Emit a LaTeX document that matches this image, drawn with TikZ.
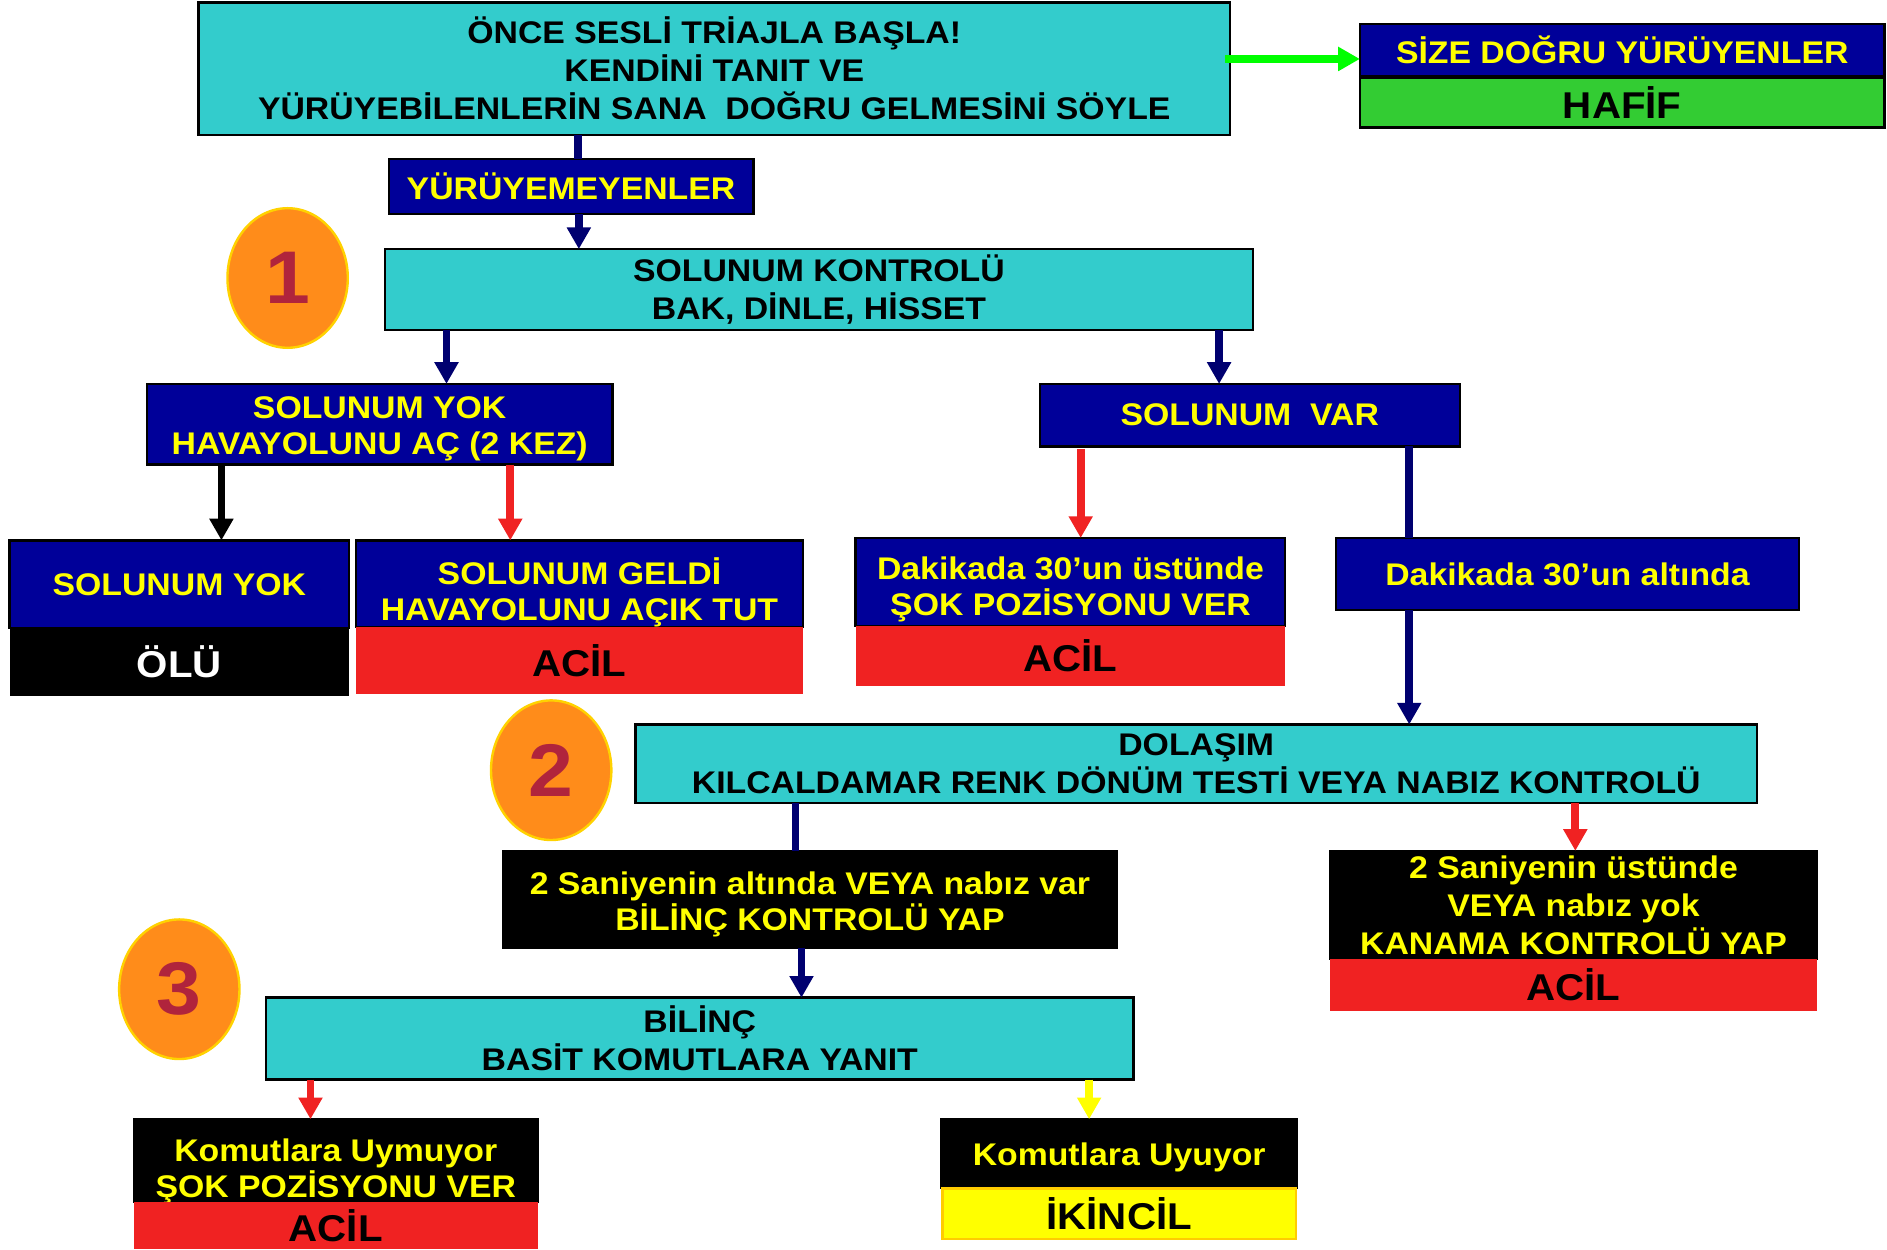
\documentclass[tikz,border=0pt]{standalone}
\usepackage{fontspec}
\setmainfont{Liberation Sans}[FakeStretch=1.08]
\usetikzlibrary{arrows.meta,shapes.geometric}
\definecolor{cyanc}{HTML}{33CCCC}
\definecolor{navyc}{HTML}{000099}
\definecolor{navyl}{HTML}{000070}
\definecolor{redc}{HTML}{F02222}
\definecolor{yellowc}{HTML}{FFFF00}
\definecolor{greenc}{HTML}{33CC33}
\definecolor{greenl}{HTML}{00FF00}
\definecolor{orangec}{HTML}{FF8C1A}
\definecolor{ringc}{HTML}{FFD200}
\definecolor{numc}{HTML}{B0243C}
\definecolor{amberc}{HTML}{FFCC00}
\tikzset{
  box/.style={rectangle, inner sep=0pt, outer sep=0pt, align=center,
    font=\bfseries\fontsize{13}{15.75}\selectfont},
  txt/.style={inner sep=0pt, align=center, font=\bfseries\fontsize{13}{15}\selectfont},
  bigtxt/.style={font=\bfseries\fontsize{15.5}{17}\selectfont},
  cyanbox/.style={box, fill=cyanc, draw=black, line width=1pt, text=black},
  navybox/.style={box, fill=navyc, draw=black, line width=1pt, text=yellowc},
  blackbox/.style={box, fill=black, draw=black, line width=0.6pt, text=yellowc},
  redbox/.style={box, fill=redc, text=black, bigtxt},
  numcirc/.style={ellipse, fill=orangec, draw=ringc, line width=1pt,
    minimum width=50pt, minimum height=58pt, inner sep=0pt, text=numc,
    font=\bfseries\fontsize{31}{31}\selectfont},
  tip/.style={-{Triangle[length=9pt,width=9.5pt]}},
  navyarrow/.style={draw=navyl, line width=3.2pt, tip},
  navyline/.style={draw=navyl, line width=3.2pt},
  redarrow/.style={draw=redc, line width=3.2pt, tip},
  blackarrow/.style={draw=black, line width=3.2pt, tip},
  yellowarrow/.style={draw=yellowc, line width=3.2pt, tip},
  greenarrow/.style={draw=greenl, line width=3.2pt, tip},
}
\begin{document}
\begin{tikzpicture}[x=0.5pt,y=-0.5pt]
\useasboundingbox[fill=white] (0,0) rectangle (1568,1038);

% top
\node[cyanbox, minimum width=428.5pt, minimum height=55pt] (top) at (593.5,57)
  {ÖNCE SESLİ TRİAJLA BAŞLA!\\KENDİNİ TANIT VE\\YÜRÜYEBİLENLERİN SANA~~DOĞRU GELMESİNİ SÖYLE};
\node[navybox, minimum width=218pt, minimum height=21.5pt] (size) at (1348,41.5) {SİZE DOĞRU YÜRÜYENLER};
\node[box, fill=greenc, draw=black, line width=1pt, bigtxt, minimum width=218pt, minimum height=20.5pt] (hafif) at (1348,85.5) {HAFİF};
\node[navybox, minimum width=151.5pt, minimum height=23pt] (yuru) at (474.5,155) {YÜRÜYEMEYENLER};
\node[cyanbox, minimum width=360.5pt, minimum height=33.5pt] (skontrol) at (680.5,240.5) {SOLUNUM KONTROLÜ\\BAK, DİNLE, HİSSET};

% circles
\node[numcirc] (c1) at (239,231) {1};
\node[numcirc] (c2) at (458,640) {2};
\node[numcirc] (c3) at (149,822) {3};

% level 2
\node[navybox, minimum width=193.5pt, minimum height=33.5pt] (syok) at (315.5,352.5) {};
\node[txt, text=yellowc] (syoktxt) at ([yshift=-2pt]syok.center) {SOLUNUM YOK\\HAVAYOLUNU AÇ (2 KEZ)};
\node[navybox, minimum width=174.5pt, minimum height=26pt] (svar) at (1038.5,345) {SOLUNUM~~VAR};

% level 3
\node[navybox, minimum width=141pt, minimum height=36.5pt] (olutop) at (149,485.5) {SOLUNUM YOK};
\node[box, fill=black, text=white, bigtxt, minimum width=141pt, minimum height=28pt] (olubot) at (149,550) {ÖLÜ};
\node[navybox, minimum width=185.5pt, minimum height=36pt] (gelditop) at (481.5,485) {};
\node[txt, text=yellowc] (gelditxt) at ([yshift=-3.5pt]gelditop.center) {SOLUNUM GELDİ\\HAVAYOLUNU AÇIK TUT};
\node[redbox, minimum width=185.5pt, minimum height=28pt] (geldibot) at (481.5,549) {ACİL};
\node[navybox, minimum width=178.5pt, minimum height=36.5pt] (ustop) at (889.5,483.5) {};
\node[txt, text=yellowc] (ustxt) at ([yshift=-3.25pt]ustop.center) {Dakikada 30’un üstünde\\ŞOK POZİSYONU VER};
\node[redbox, minimum width=178.5pt, minimum height=25pt] (usbot) at (889.5,545) {ACİL};
\node[navybox, minimum width=192.5pt, minimum height=30pt] (altinda) at (1302.5,477) {Dakikada 30’un altında};

% dolasim
\node[cyanbox, minimum width=466pt, minimum height=32.5pt] (dolasim) at (994,634.5) {DOLAŞIM\\KILCALDAMAR RENK DÖNÜM TESTİ VEYA NABIZ KONTROLÜ};
\node[blackbox, minimum width=255pt, minimum height=40.5pt] (sanalt) at (673,747.5) {};
\node[txt, text=yellowc] (sanalttxt) at ([yshift=-2pt]sanalt.center) {2 Saniyenin altında VEYA nabız var\\BİLİNÇ KONTROLÜ YAP};
\node[blackbox, minimum width=202.5pt, minimum height=45pt] (sanusttop) at (1307.5,752) {2 Saniyenin üstünde\\VEYA nabız yok\\KANAMA KONTROLÜ YAP};
\node[redbox, minimum width=202.5pt, minimum height=21.5pt] (sanustbot) at (1307.5,818.5) {ACİL};

% bilinc
\node[cyanbox, minimum width=360.5pt, minimum height=34pt] (bilinc) at (581.5,863) {BİLİNÇ\\BASİT KOMUTLARA YANIT};
\node[blackbox, minimum width=168pt, minimum height=34.5pt] (uymtop) at (279,964.5) {};
\node[txt, text=yellowc] (uymtxt) at ([yshift=-4.5pt]uymtop.center) {Komutlara Uymuyor\\ŞOK POZİSYONU VER};
\node[redbox, minimum width=168pt, minimum height=19.5pt] (uymbot) at (279,1018.5) {ACİL};
\node[blackbox, minimum width=148pt, minimum height=28.5pt] (uyutop) at (930,958.5) {};
\node[txt, text=yellowc] (uyutxt) at ([yshift=-1.5pt]uyutop.center) {Komutlara Uyuyor};
\node[box, fill=yellowc, draw=amberc, line width=1pt, text=black, bigtxt, minimum width=147pt, minimum height=21pt] (uyubot) at (930,1008.5) {İKİNCİL};

% connectors
\coordinate (gtip) at ([yshift=-3.75pt]size.west);
\draw[greenarrow] ([xshift=-2pt]top.east |- gtip) -- (gtip);
\draw[navyline] ([xshift=2.75pt]yuru.north |- top.south) -- ([xshift=2.75pt]yuru.north);
\draw[navyarrow] ([xshift=3.25pt]yuru.south) -- ([xshift=3.25pt]yuru.south |- skontrol.north);
\draw[navyarrow] ([xshift=27.75pt]syok.north |- skontrol.south) -- ([xshift=27.75pt]syok.north);
\draw[navyarrow] ([xshift=-12.75pt]svar.north |- skontrol.south) -- ([xshift=-12.75pt]svar.north);
\draw[blackarrow] ([xshift=17.5pt]olutop.north |- syok.south) -- ([xshift=17.5pt]olutop.north);
\draw[redarrow] ([xshift=-28.75pt]gelditop.north |- syok.south) -- ([xshift=-28.75pt]gelditop.north);
\draw[redarrow] ([xshift=4.25pt,yshift=-1pt]ustop.north |- svar.south) -- ([xshift=4.25pt]ustop.north);
\draw[navyline] ([xshift=-65.75pt]altinda.north |- svar.south) -- ([xshift=-65.75pt]altinda.north);
\draw[navyarrow] ([xshift=-65.75pt]altinda.south) -- ([xshift=-65.75pt]altinda.south |- dolasim.north);
\draw[navyline] ([xshift=-6pt]sanalt.north |- dolasim.south) -- ([xshift=-6pt]sanalt.north);
\draw[redarrow] ([xshift=0.75pt]sanusttop.north |- dolasim.south) -- ([xshift=0.75pt]sanusttop.north);
\draw[navyarrow] ([xshift=-3.5pt]sanalt.south) -- ([xshift=-3.5pt]sanalt.south |- bilinc.north);
\draw[redarrow] ([xshift=-10.5pt]uymtop.north |- bilinc.south) -- ([xshift=-10.5pt]uymtop.north);
\draw[yellowarrow] ([xshift=-12.5pt]uyutop.north |- bilinc.south) -- ([xshift=-12.5pt]uyutop.north);
\end{tikzpicture}
\end{document}
